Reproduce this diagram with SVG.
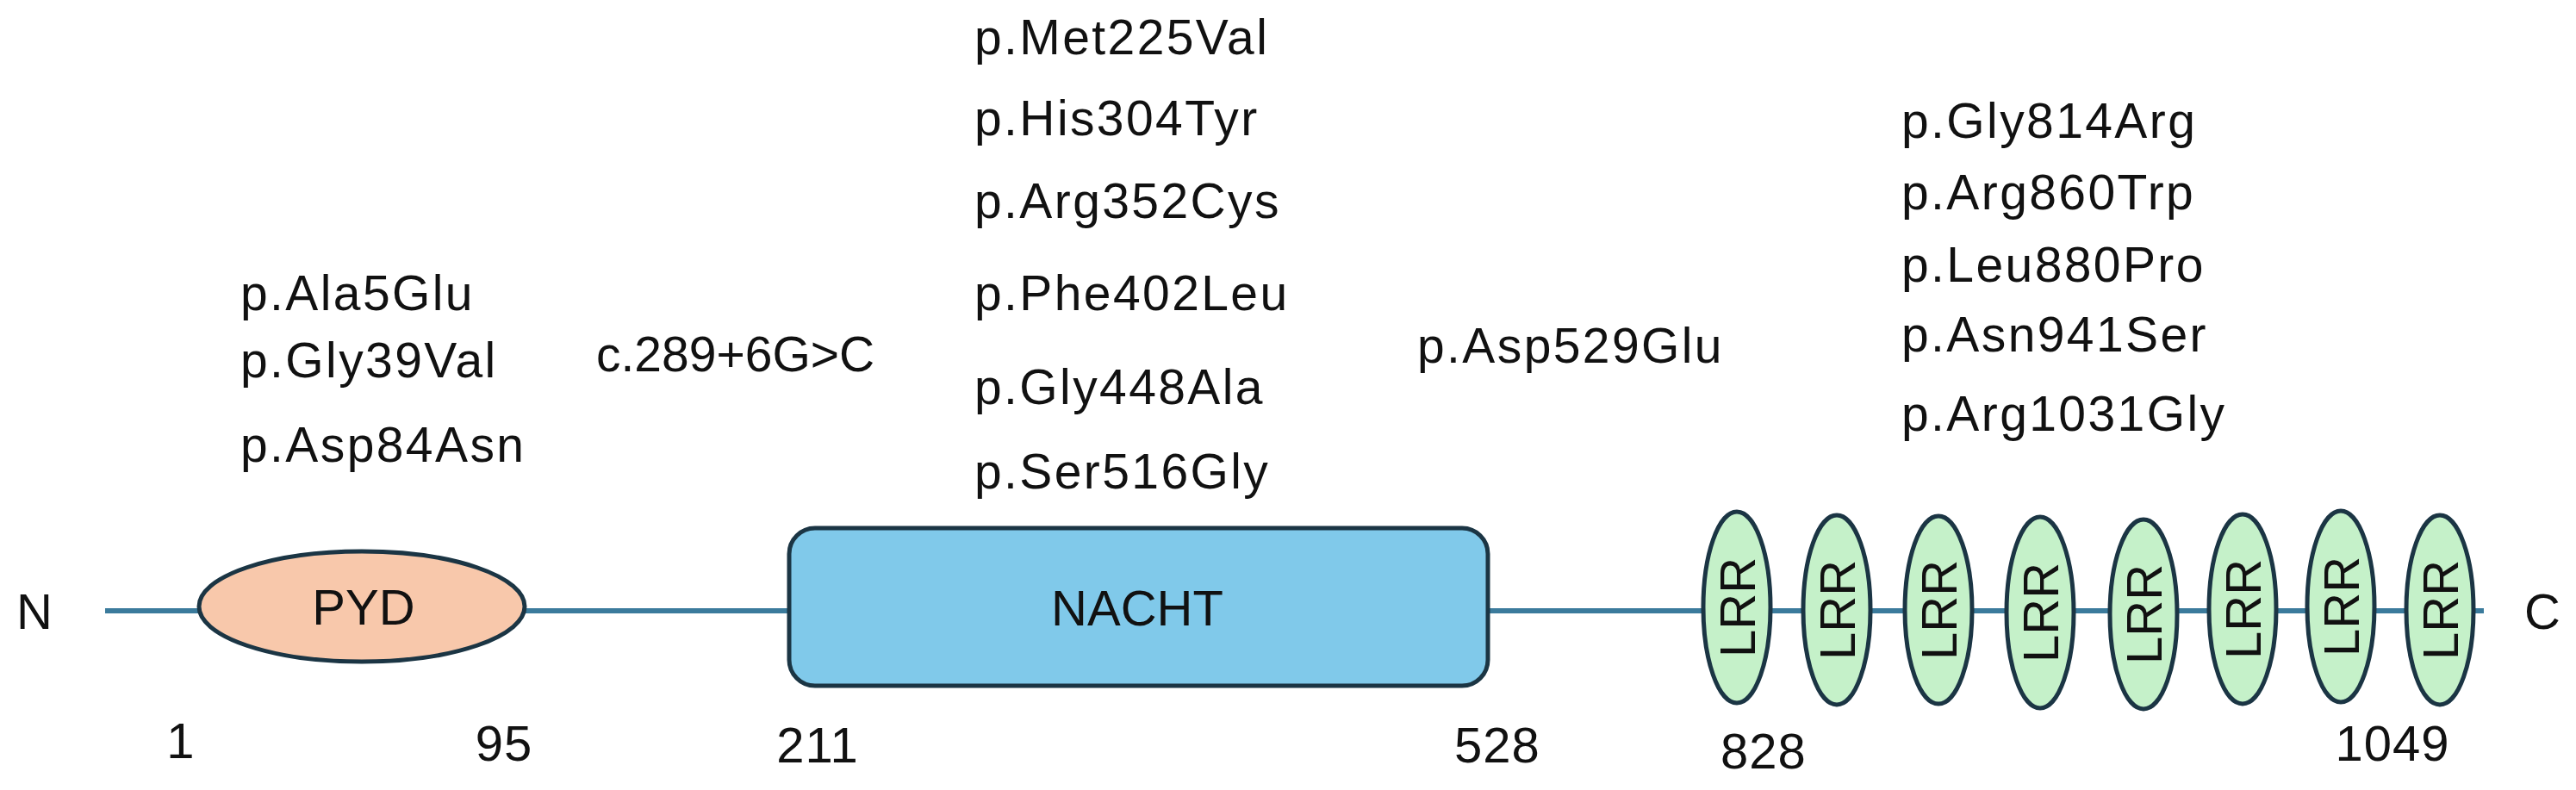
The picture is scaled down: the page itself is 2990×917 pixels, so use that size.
<svg xmlns="http://www.w3.org/2000/svg" width="2990" height="917" viewBox="0 0 2990 917">
<style>
text{font-family:"Liberation Sans",Arial,sans-serif;fill:#111}
.mut{font-size:57px;letter-spacing:2.4px}
.num{font-size:58px;text-anchor:middle;letter-spacing:1px}
.term{font-size:58px;text-anchor:middle}
.dom{font-size:58px;text-anchor:middle}
.shape{stroke:#1b3544;stroke-width:5}
.pyd{fill:#f8c8ab}
.nacht{fill:#80c9ea}
.lrr{fill:#c5f1c9}
.backbone{stroke:#3b7b9c;stroke-width:6;fill:none}
</style>
<rect width="2990" height="917" fill="#ffffff"/>
<g id="connectors">
<line class="backbone" x1="122" y1="709" x2="2883" y2="709"/>
</g>
<g id="N-term"><text class="term" x="40" y="730">N</text></g>
<g id="C-term"><text class="term" x="2951" y="730">C</text></g>
<g id="PYD">
<ellipse class="shape pyd" cx="420" cy="704" rx="189" ry="64"/>
<text class="dom" x="422" y="725">PYD</text>
</g>
<g id="NACHT">
<rect class="shape nacht" x="916" y="613" width="811" height="183" rx="30"/>
<text class="dom" x="1320" y="726">NACHT</text>
</g>
<g id="LRR1"><ellipse class="shape lrr" cx="2016" cy="705" rx="39" ry="111"/><text class="dom" transform="translate(2016,705) rotate(-90)" y="21">LRR</text></g>
<g id="LRR2"><ellipse class="shape lrr" cx="2132" cy="708" rx="39" ry="110"/><text class="dom" transform="translate(2132,708) rotate(-90)" y="21">LRR</text></g>
<g id="LRR3"><ellipse class="shape lrr" cx="2250" cy="708" rx="39" ry="109"/><text class="dom" transform="translate(2250,708) rotate(-90)" y="21">LRR</text></g>
<g id="LRR4"><ellipse class="shape lrr" cx="2368" cy="711" rx="39" ry="111"/><text class="dom" transform="translate(2368,711) rotate(-90)" y="21">LRR</text></g>
<g id="LRR5"><ellipse class="shape lrr" cx="2488" cy="713" rx="39" ry="110"/><text class="dom" transform="translate(2488,713) rotate(-90)" y="21">LRR</text></g>
<g id="LRR6"><ellipse class="shape lrr" cx="2603" cy="707" rx="39" ry="110"/><text class="dom" transform="translate(2603,707) rotate(-90)" y="21">LRR</text></g>
<g id="LRR7"><ellipse class="shape lrr" cx="2717" cy="704" rx="39" ry="111"/><text class="dom" transform="translate(2717,704) rotate(-90)" y="21">LRR</text></g>
<g id="LRR8"><ellipse class="shape lrr" cx="2832" cy="708" rx="39" ry="110"/><text class="dom" transform="translate(2832,708) rotate(-90)" y="21">LRR</text></g>
<g id="positions">
<text class="num" x="210" y="880">1</text>
<text class="num" x="585" y="883">95</text>
<text class="num" x="949" y="885">211</text>
<text class="num" x="1738" y="885">528</text>
<text class="num" x="2047" y="892">828</text>
<text class="num" x="2777" y="883">1049</text>
</g>
<g id="mutations-PYD">
<text class="mut" x="279" y="360">p.Ala5Glu</text>
<text class="mut" x="279" y="438">p.Gly39Val</text>
<text class="mut" x="279" y="536">p.Asp84Asn</text>
</g>
<g id="mutation-splice">
<text class="mut" x="692" y="431" style="letter-spacing:0">c.289+6G&gt;C</text>
</g>
<g id="mutations-NACHT">
<text class="mut" x="1131" y="63">p.Met225Val</text>
<text class="mut" x="1131" y="157">p.His304Tyr</text>
<text class="mut" x="1131" y="253">p.Arg352Cys</text>
<text class="mut" x="1131" y="360">p.Phe402Leu</text>
<text class="mut" x="1131" y="469">p.Gly448Ala</text>
<text class="mut" x="1131" y="567">p.Ser516Gly</text>
</g>
<g id="mutation-linker">
<text class="mut" x="1645" y="421">p.Asp529Glu</text>
</g>
<g id="mutations-LRR">
<text class="mut" x="2207" y="160">p.Gly814Arg</text>
<text class="mut" x="2207" y="243">p.Arg860Trp</text>
<text class="mut" x="2207" y="327">p.Leu880Pro</text>
<text class="mut" x="2207" y="408">p.Asn941Ser</text>
<text class="mut" x="2207" y="500">p.Arg1031Gly</text>
</g>
</svg>
